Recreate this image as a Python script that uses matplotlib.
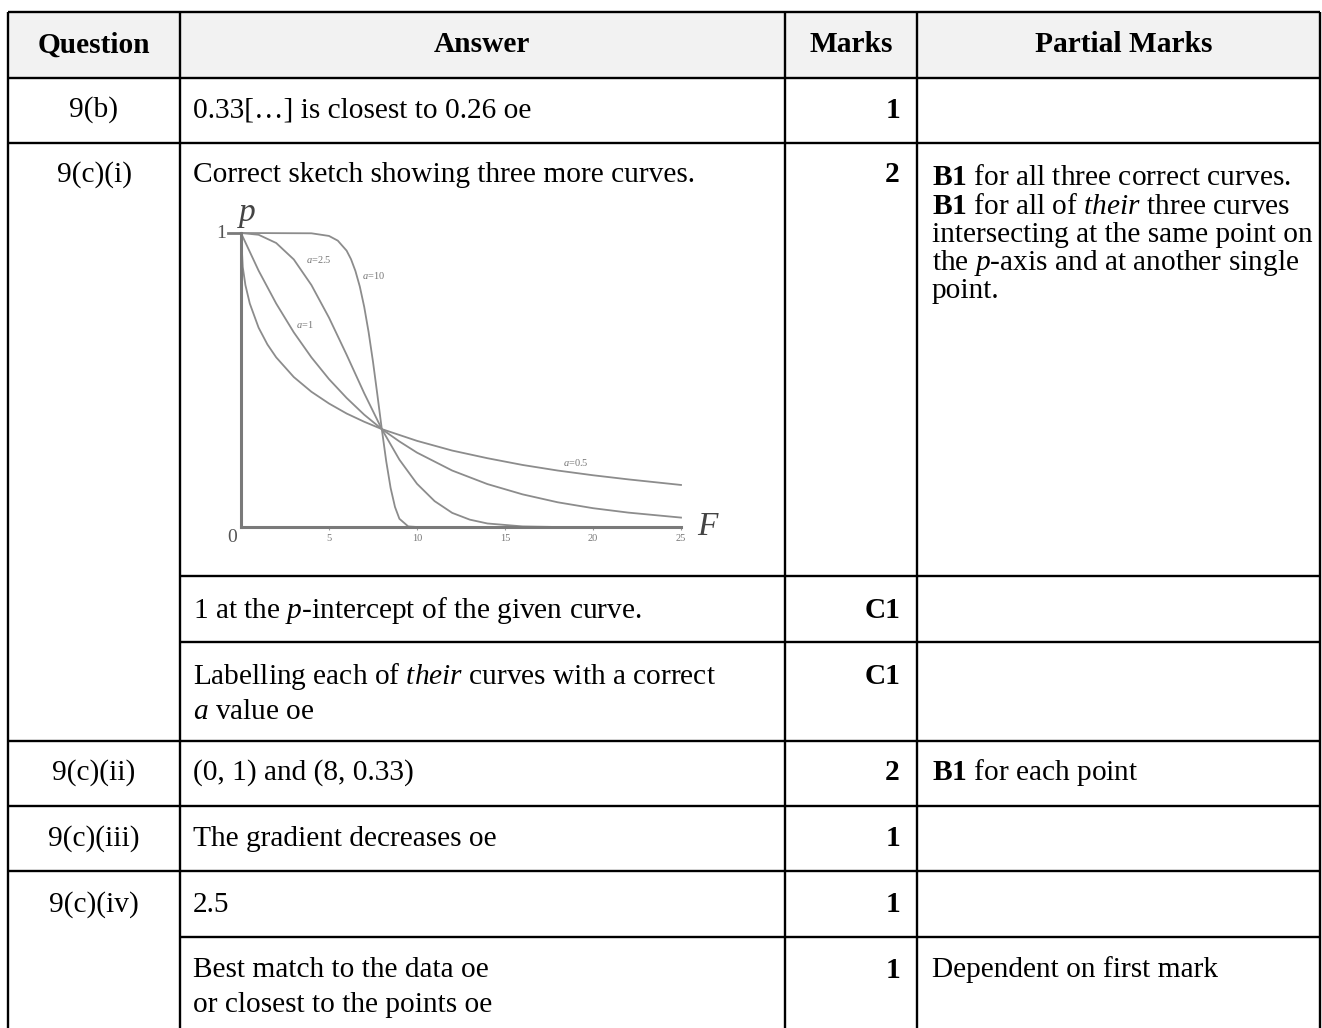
import matplotlib
matplotlib.use('Agg')
from matplotlib import pyplot as plt
from matplotlib.patches import Rectangle

plt.rcParams['font.family'] = 'Liberation Serif'
plt.rcParams['mathtext.fontset'] = 'custom'
plt.rcParams['mathtext.rm'] = 'Liberation Serif'
plt.rcParams['mathtext.it'] = 'Liberation Serif:italic'
plt.rcParams['mathtext.bf'] = 'Liberation Serif:bold'

W, H = 1322, 1028
FS = 21.2

# ---- table text ----
headers = ['Question', 'Answer', 'Marks', 'Partial Marks']
questions = ['9(b)', '9(c)(i)', '9(c)(ii)', '9(c)(iii)', '9(c)(iv)']
answer_lines = [
    '0.33[…] is closest to 0.26 oe',
    'Correct sketch showing three more curves.',
    r'1 at the $\mathit{p}$-intercept of the given curve.',
    r'Labelling each of $\mathit{their}$ curves with a correct',
    r'$\mathit{a}$ value oe',
    '(0, 1) and (8, 0.33)',
    'The gradient decreases oe',
    '2.5',
    'Best match to the data oe',
    'or closest to the points oe',
]
marks = ['1', '2', 'C1', 'C1', '2', '1', '1', '1']
partial_lines = [
    r'$\mathbf{B1}$ for all three correct curves.',
    r'$\mathbf{B1}$ for all of $\mathit{their}$ three curves',
    'intersecting at the same point on',
    r'the $\mathit{p}$-axis and at another single',
    'point.',
    r'$\mathbf{B1}$ for each point',
    'Dependent on first mark',
]

# ---- sketch curves p against F ----
F_05 = [0, 0.1, 0.25, 0.5, 1, 1.5, 2, 3, 4, 5, 6, 7, 8, 10, 12, 14, 16, 18, 20, 22, 25]
p_05 = [1, 0.884, 0.823, 0.760, 0.678, 0.621, 0.577, 0.510, 0.460, 0.420, 0.386, 0.358,
        0.333, 0.293, 0.260, 0.234, 0.211, 0.192, 0.176, 0.162, 0.143]
F_1 = [0, 1, 2, 3, 4, 5, 6, 7, 8, 9, 10, 12, 14, 16, 18, 20, 22, 25]
p_1 = [1, 0.872, 0.760, 0.662, 0.577, 0.503, 0.439, 0.382, 0.333, 0.291, 0.253, 0.192,
       0.146, 0.111, 0.084, 0.064, 0.049, 0.032]
F_25 = [0, 1, 2, 3, 4, 5, 6, 7, 8, 9, 10, 11, 12, 13, 14, 16, 18]
p_25 = [1, 0.994, 0.966, 0.910, 0.823, 0.712, 0.586, 0.455, 0.333, 0.229, 0.147, 0.088,
        0.048, 0.025, 0.012, 0.002, 0]
F_10 = [0, 4, 5, 5.5, 6, 6.25, 6.5, 6.75, 7, 7.25, 7.5, 7.75, 8, 8.25, 8.5, 8.75, 9, 9.5, 10]
p_10 = [1, 0.999, 0.990, 0.974, 0.940, 0.911, 0.871, 0.818, 0.749, 0.663, 0.562, 0.449,
        0.333, 0.224, 0.133, 0.068, 0.028, 0.002, 0]
curve_labels = [r'$a$=0.5', r'$a$=1', r'$a$=2.5', r'$a$=10']
x_ticks = [5, 10, 15, 20, 25]

fig = plt.figure(figsize=(W / 100, H / 100), dpi=100)

# table grid
tab = fig.add_axes([0, 0, 1, 1])
tab.set_xlim(0, W)
tab.set_ylim(H, 0)
tab.axis('off')

cols = [8, 180, 785, 917, 1320]
top, head_bot = 12, 78
tab.add_patch(Rectangle((cols[0], top), cols[-1] - cols[0], head_bot - top,
                        facecolor='#f2f2f2', edgecolor='none'))
lw = 1.7
for x in cols:
    tab.plot([x, x], [top, H], color='black', lw=lw, solid_capstyle='butt')
for y in [12, 78, 143, 741, 806, 871]:
    tab.plot([cols[0], cols[-1]], [y, y], color='black', lw=lw, solid_capstyle='butt')
for y in [576, 642, 937]:
    tab.plot([cols[1], cols[-1]], [y, y], color='black', lw=lw, solid_capstyle='butt')

head_x = [94, 482, 851, 1124]
for hx, ht in zip(head_x, headers):
    tab.text(hx, 45, ht, ha='center', va='center', fontsize=FS, fontweight='bold')

question_y = [110, 175, 773, 839, 905]
for qy, qt in zip(question_y, questions):
    tab.text(head_x[0], qy, qt, ha='center', va='center', fontsize=FS)

answer_y = [110, 175, 610, 676, 712, 773, 839, 905, 970, 1005]
for ay, at in zip(answer_y, answer_lines):
    tab.text(193, ay, at, ha='left', va='center', fontsize=FS)

marks_y = [110, 175, 610, 676, 773, 839, 905, 970]
for my, mt in zip(marks_y, marks):
    tab.text(900, my, mt, ha='right', va='center', fontsize=FS, fontweight='bold')

partial_y = [178, 207, 235, 263, 291, 773, 970]
for py, pt in zip(partial_y, partial_lines):
    tab.text(932, py, pt, ha='left', va='center', fontsize=FS)

# embedded sketch
ax = fig.add_axes([241 / W, 1 - 527 / H, 440 / W, 294 / H])
ax.set_xlim(0, 25)
ax.set_ylim(0, 1)
ax.patch.set_alpha(0)
curve_col = '#8c8c8c'
for fx, py_ in [(F_05, p_05), (F_1, p_1), (F_25, p_25), (F_10, p_10)]:
    ax.plot(fx, py_, color=curve_col, lw=1.3, clip_on=False)
for s in ['top', 'right']:
    ax.spines[s].set_visible(False)
for s in ['left', 'bottom']:
    ax.spines[s].set_color('#7a7a7a')
    ax.spines[s].set_linewidth(2.2)
ax.set_xticks(x_ticks)
ax.set_xticklabels([str(t) for t in x_ticks], fontsize=7.5, color='#777777')
ax.set_yticks([])
ax.tick_params(axis='x', length=2, color='#999999', pad=3)

ax.text(-0.045, 1.0, '1', transform=ax.transAxes, ha='center', va='center',
        fontsize=14, color='#555555')
ax.plot([-0.03, 0], [1, 1], transform=ax.transAxes, color='#7a7a7a', lw=2, clip_on=False)
ax.text(-0.02, -0.035, '0', transform=ax.transAxes, ha='center', va='center',
        fontsize=14, color='#555555')
ax.text(0.015, 1.07, 'p', transform=ax.transAxes, ha='center', va='center',
        fontsize=24, style='italic', color='#444444')
ax.text(1.06, 0.0, 'F', transform=ax.transAxes, ha='center', va='center',
        fontsize=24, style='italic', color='#444444')

label_pos = [(19.0, 0.22), (3.6, 0.69), (4.4, 0.91), (7.5, 0.855)]
for (lx, ly), lt in zip(label_pos, curve_labels):
    ax.text(lx, ly, lt, fontsize=7.5, color='#777777', ha='center', va='center')

fig.savefig('out.png', dpi=100)
